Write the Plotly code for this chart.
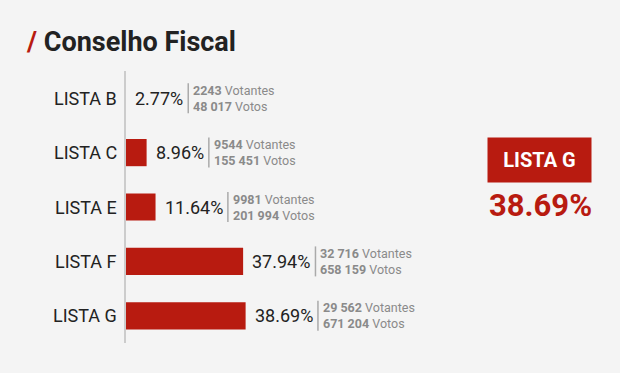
import plotly.graph_objects as go

categories = ["LISTA B", "LISTA C", "LISTA E", "LISTA F", "LISTA G"]
pct = [2.77, 8.96, 11.64, 37.94, 38.69]
votantes = ["2243", "9544", "9981", "32 716", "29 562"]
votos = ["48 017", "155 451", "201 994", "658 159", "671 204"]
winner = "LISTA G"
winner_pct = 38.69
title = "Conselho Fiscal"

W, H = 620, 373
L, R, T, B = 126, 154, 71, 30
PW, PH = W - L - R, H - T - B
RED = "#b81b10"
FONT = "Roboto"

def px(x):
    return (x - L) / PW

def py(y):
    return (H - B - y) / PH

def text_w(s, size):
    w = {".": 0.2632, "%": 0.7324, " ": 0.248}
    return sum(w.get(c, 0.5615) for c in s) * size

fig = go.Figure()
fig.add_trace(go.Bar(
    y=categories, x=pct, orientation="h", width=0.5,
    marker=dict(color=RED, line=dict(width=0)), hoverinfo="skip",
))

ann = []
shapes = []
for c, v, vt, vo in zip(categories, pct, votantes, votos):
    label = f"{v:.2f}%"
    ann.append(dict(x=0, xref="paper", y=c, yref="y", xshift=-7, xanchor="right",
                    yanchor="middle", text=c, showarrow=False,
                    font=dict(family=FONT, size=18, color="#222")))
    ann.append(dict(x=v, xref="x", y=c, yref="y", xshift=7, xanchor="left",
                    yanchor="middle", text=label, showarrow=False,
                    font=dict(family=FONT, size=18, color="#222")))
    sep = 9 + text_w(label, 18) + 5
    shapes.append(dict(type="line", xref="x", xsizemode="pixel", xanchor=v,
                       x0=sep, x1=sep, yref="y", ysizemode="pixel", yanchor=c,
                       y0=-15, y1=15, line=dict(color="#aaaaaa", width=1.5)))
    ann.append(dict(x=v, xref="x", y=c, yref="y", xshift=sep + 3, xanchor="left",
                    yanchor="middle", align="left", showarrow=False,
                    text=f"<b>{vt}</b> Votantes<br><b>{vo}</b> Votos",
                    font=dict(family=FONT, size=12.5, color="#8a8a8a")))

ann.append(dict(x=px(23.5), xref="paper", y=py(42), yref="paper", xanchor="left",
                yanchor="middle", showarrow=False,
                text=f"<b><span style='color:{RED}'>/</span> {title}</b>",
                font=dict(family=FONT, size=27, color="#222")))
ann.append(dict(x=px(539.5), xref="paper", y=py(160), yref="paper", xanchor="center",
                yanchor="middle", showarrow=False, text=f"<b>{winner}</b>",
                bgcolor=RED, width=103, height=44, borderpad=0, align="center", valign="middle",
                font=dict(family=FONT, size=20, color="white")))
ann.append(dict(x=px(540), xref="paper", y=py(205), yref="paper", xanchor="center",
                yanchor="middle", showarrow=False, text=f"<b>{winner_pct:.2f}%</b>",
                font=dict(family=FONT, size=31, color=RED)))

fig.update_layout(
    width=W, height=H,
    margin=dict(l=L, r=R, t=T, b=B),
    paper_bgcolor="#f4f4f4", plot_bgcolor="#f4f4f4",
    showlegend=False,
    xaxis=dict(range=[min(pct), min(pct) + PW / 3.33], visible=False, fixedrange=True),
    yaxis=dict(categoryorder="array", categoryarray=categories, range=[4.5, -0.5],
               showticklabels=False, showgrid=False, zeroline=False,
               showline=True, linecolor="#cccccc", linewidth=2, fixedrange=True),
    annotations=ann, shapes=shapes,
)
fig.write_html(
    "out.html",
    config={"displayModeBar": False},
    post_script="document.body.style.margin='0';document.body.style.background='#f4f4f4';",
)
